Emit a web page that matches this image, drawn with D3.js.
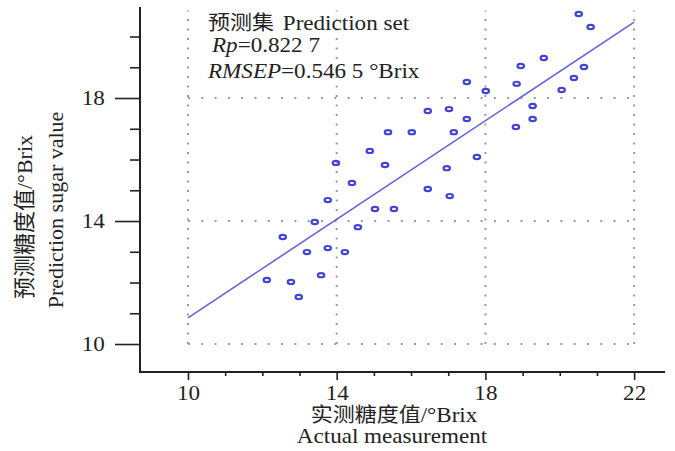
<!DOCTYPE html>
<html>
<head>
<meta charset="utf-8">
<title>prediction set</title>
<script src="https://cdn.jsdelivr.net/npm/d3@7"></script>
<style>
    body{ margin:0; background:#fff; }
    svg text{ font-family:"Liberation Serif","Times New Roman",serif; fill:#222; }
    .cjk{ font-family:"Noto Sans CJK SC","Liberation Serif",serif; }
</style>
</head>
<body>
<div id="chart"></div>
<script>
    var actual = [12.12,12.77,12.98,12.55,13.20,13.58,13.76,13.41,14.22,14.57,
                  13.76,13.98,14.41,15.03,15.54,14.89,15.30,15.38,16.02,17.15,
                  16.45,17.02,17.50,17.50,18.01,17.77,16.96,16.45,17.04,18.82,
                  19.27,19.27,18.84,18.95,19.57,20.05,20.38,20.65,20.51,20.83]
    var predicted = [12.08,12.02,11.53,13.48,12.99,12.24,13.12,13.97,12.99,13.80,
                     14.68,15.89,15.24,14.39,14.39,16.28,15.82,16.89,16.89,16.89,
                     17.58,17.64,17.32,18.52,18.23,16.08,15.72,15.04,14.81,17.06,
                     17.74,17.32,18.46,19.04,19.30,18.26,18.65,19.01,20.73,20.31]
    var fitX = [10, 22]
    var fitY = [10.85, 20.47]
    var majorTicks = [10, 14, 18, 22]
    var yMajor = [10, 14, 18]
    var xMinor = [11,12,13,15,16,17,19,20,21]
    var yMinor = [11,12,13,15,16,17,19,20]
    var notes = ["Rp", "=0.822 7", "RMSEP", "=0.546 5 °Brix"]

    var w = 675, h = 451
    var sx = 1.1   // the printed type is a little wide
    var svg = d3.select("#chart").append("svg").attr("width", w).attr("height", h)

    var x = d3.scaleLinear().domain([8.71, 22.83]).range([140, 665])
    var y = d3.scaleLinear().domain([9.09, 20.96]).range([372, 7])

    function label(px, py, size){
        return svg.append("text")
            .attr("transform", "translate(" + px + "," + py + ") scale(" + sx + ",1)")
            .style("font-size", (size || 21) + "px")
    }

    // dotted grid
    var grid = svg.append("g").attr("stroke", "#9a9a9a").attr("stroke-width", 2)
    grid.selectAll(".gh").data(yMajor).enter().append("line")
        .attr("x1", x(10)).attr("x2", x(22) + 1)
        .attr("y1", function(d){ return y(d) }).attr("y2", function(d){ return y(d) })
        .attr("stroke-dasharray", "2,11.3")
    grid.selectAll(".gv").data(majorTicks).enter().append("line")
        .attr("x1", function(d){ return x(d) }).attr("x2", function(d){ return x(d) })
        .attr("y1", y(10)).attr("y2", y(20.85))
        .attr("stroke-dasharray", "2,7.5")

    // axes
    var yAxis = d3.axisLeft(y).tickValues(yMajor).tickSize(25).tickPadding(7).tickFormat(d3.format("d"))
    var yAxisMinor = d3.axisLeft(y).tickValues(yMinor).tickSize(10).tickFormat("")
    var xAxis = d3.axisBottom(x).tickValues(majorTicks).tickSize(8).tickPadding(5).tickFormat(d3.format("d"))
    var xAxisMinor = d3.axisBottom(x).tickValues(xMinor).tickSize(4).tickFormat("")

    function styleAxis(g){
        g.select(".domain").remove()
        g.selectAll("line").attr("stroke", "#222").attr("stroke-width", 1.6)
        g.selectAll("text").style("font-size", "21px").attr("fill", "#222")
            .attr("transform", "scale(" + sx + ",1)")
    }
    svg.append("g").attr("transform", "translate(140,0)").call(yAxis).call(styleAxis)
    svg.append("g").attr("transform", "translate(140,0)").call(yAxisMinor).call(styleAxis)
    svg.append("g").attr("transform", "translate(0,372)").call(xAxis).call(styleAxis)
    svg.append("g").attr("transform", "translate(0,372)").call(xAxisMinor).call(styleAxis)

    svg.append("line").attr("x1", 140).attr("x2", 140).attr("y1", 7).attr("y2", 373)
        .attr("stroke", "#222").attr("stroke-width", 2)
    svg.append("line").attr("x1", 139).attr("x2", 665).attr("y1", 372).attr("y2", 372)
        .attr("stroke", "#222").attr("stroke-width", 2)

    // fitted line
    svg.append("line")
        .attr("x1", x(fitX[0])).attr("y1", y(fitY[0]))
        .attr("x2", x(fitX[1])).attr("y2", y(fitY[1]))
        .attr("stroke", "#6464dc").attr("stroke-width", 1.6)

    // samples
    svg.selectAll("ellipse").data(actual).enter().append("ellipse")
        .attr("cx", function(d){ return x(d) })
        .attr("cy", function(d, i){ return y(predicted[i]) })
        .attr("rx", 3.2).attr("ry", 2.1)
        .attr("fill", "none").attr("stroke", "#4444d2").attr("stroke-width", 2.2)

    // annotation
    var t1 = label(208, 30, 20)
    t1.append("tspan").attr("class", "cjk").text("预测集")
    t1.append("tspan").attr("dx", 8).style("font-size", "21px").text("Prediction set")
    var t2 = label(212, 52)
    t2.append("tspan").style("font-style", "italic").text(notes[0])
    t2.append("tspan").text(notes[1])
    var t3 = label(208, 78)
    t3.append("tspan").style("font-style", "italic").text(notes[2])
    t3.append("tspan").text(notes[3])

    // axis titles
    var xt = label(394, 422, 20).attr("text-anchor", "middle")
    xt.append("tspan").attr("class", "cjk").text("实测糖度值")
    xt.append("tspan").style("font-size", "21px").text("/°Brix")
    label(392, 443).attr("text-anchor", "middle").text("Actual measurement")

    var yt = svg.append("text").attr("transform", "translate(32,217) rotate(-90)").attr("text-anchor", "middle").style("font-size", "22px")
    yt.append("tspan").attr("class", "cjk").text("预测糖度值")
    yt.append("tspan").text("/°Brix")
    svg.append("text").attr("transform", "translate(63,210) rotate(-90)").attr("text-anchor", "middle").style("font-size", "22px")
        .text("Prediction sugar value")
</script>
</body>
</html>
